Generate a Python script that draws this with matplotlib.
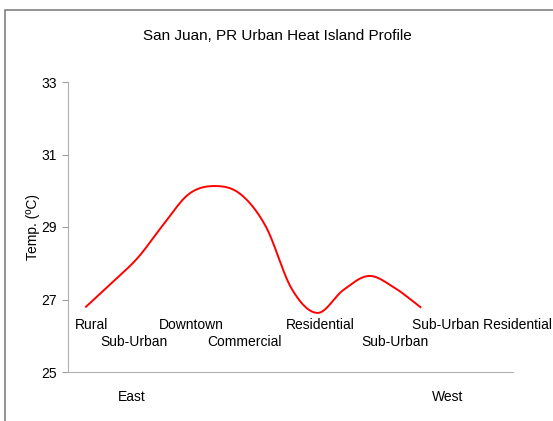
import numpy as np
import matplotlib
matplotlib.use("Agg")
import matplotlib.pyplot as plt
from matplotlib.patches import Rectangle

plt.rcParams['font.family'] = ['Liberation Sans', 'DejaVu Sans']

# temperatures read along the transect (east -> west), evenly spaced stations
station = list(range(14))
temp = [26.8, 27.46, 28.14, 29.06, 29.91, 30.13, 29.91, 29.0, 27.29, 26.63, 27.26, 27.65, 27.32, 26.79]

# zone names along the profile and where they sit on the station axis
zones = ["Rural", "Sub-Urban", "Downtown", "Commercial", "Residential", "Sub-Urban", "Sub-Urban Residential"]
zone_x = [0.23, 1.87, 4.09, 6.15, 9.1, 12.0, 15.4]
zone_row = [0, 1, 0, 1, 0, 1, 0]


def catmull_rom(x, y, n=20):
    # smooth line through the points, like Excel's "smoothed line"
    x = np.asarray(x, float)
    y = np.asarray(y, float)
    px = np.concatenate(([2 * x[0] - x[1]], x, [2 * x[-1] - x[-2]]))
    py = np.concatenate(([2 * y[0] - y[1]], y, [2 * y[-1] - y[-2]]))
    xs, ys = [], []
    t = np.linspace(0, 1, n, endpoint=False)
    for i in range(1, len(px) - 2):
        for p, out in ((px, xs), (py, ys)):
            p0, p1, p2, p3 = p[i - 1], p[i], p[i + 1], p[i + 2]
            out.extend(0.5 * (2 * p1 + (-p0 + p2) * t
                              + (2 * p0 - 5 * p1 + 4 * p2 - p3) * t ** 2
                              + (-p0 + 3 * p1 - 3 * p2 + p3) * t ** 3))
    xs.append(x[-1])
    ys.append(y[-1])
    return np.array(xs), np.array(ys)


fig = plt.figure(figsize=(5.53, 4.21), dpi=100)
ax = fig.add_axes([68 / 553, 1 - 372 / 421, 445 / 553, 290 / 421])

sx, sy = catmull_rom(station, temp)
ax.plot(sx, sy, color='#ff0000', lw=1.4)

ax.set_xlim(-0.70, 16.6)
ax.set_ylim(25, 33)
ax.set_yticks([25, 27, 29, 31, 33])
ax.set_xticks([])
ax.tick_params(axis='y', direction='out', length=4, width=0.8, color='#a0a0a0',
               labelsize=10, pad=4)
for s in ['top', 'right']:
    ax.spines[s].set_visible(False)
ax.spines['left'].set_color('#b0b0b0')
ax.spines['bottom'].set_color('#b0b0b0')
ax.set_ylabel("Temp. (ºC)", fontsize=10, labelpad=1)

for name, x, row in zip(zones, zone_x, zone_row):
    ax.text(x, 26.3 - 0.47 * row, name, ha='center', va='center', fontsize=10,
            clip_on=False)

fig.text(132 / 553, 1 - 397 / 421, "East", ha='center', va='center', fontsize=10)
fig.text(448 / 553, 1 - 397 / 421, "West", ha='center', va='center', fontsize=10)
fig.text(277 / 553, 1 - 36 / 421, "San Juan, PR Urban Heat Island Profile",
         ha='center', va='center', fontsize=11)

# outer chart frame (runs off the right and bottom edge)
fig.patches.append(Rectangle((5 / 553, -0.1), 1.2, 1 - 10 / 421 + 0.1,
                             transform=fig.transFigure, fill=False,
                             edgecolor='#808080', lw=1.2))

fig.savefig("out.png", dpi=100)
